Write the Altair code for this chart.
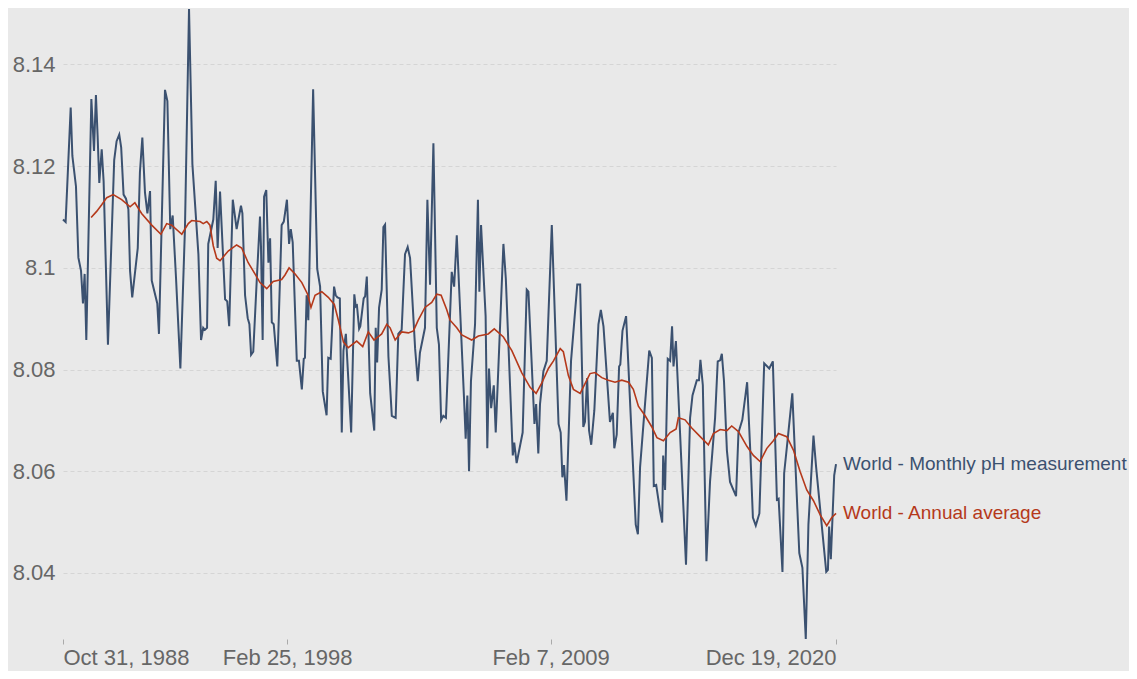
import altair as alt
import pandas as pd

# ---- data (decimal year, pH) ----
monthly_years = [
    1988.831, 1988.94, 1989.15, 1989.22, 1989.37, 1989.47, 1989.58, 1989.66, 1989.73, 1989.80,
    1990.01, 1990.06, 1990.12, 1990.20, 1990.27, 1990.34, 1990.44, 1990.52, 1990.70, 1990.96,
    1991.06, 1991.17, 1991.25, 1991.35, 1991.45, 1991.55, 1991.62, 1991.71, 1991.94, 1992.03,
    1992.13, 1992.24, 1992.34, 1992.45, 1992.52, 1992.75, 1992.82, 1993.07, 1993.17, 1993.29,
    1993.39, 1993.53, 1993.71, 1993.90, 1994.07, 1994.21, 1994.46, 1994.57, 1994.66, 1994.73,
    1994.82, 1994.87, 1995.08, 1995.18, 1995.26, 1995.36, 1995.57, 1995.66, 1995.74, 1995.89,
    1996.05, 1996.23, 1996.29, 1996.40, 1996.51, 1996.58, 1996.65, 1996.74, 1996.88, 1997.02,
    1997.06, 1997.13, 1997.19, 1997.28, 1997.37, 1997.44, 1997.51, 1997.59, 1997.74, 1997.92,
    1998.01, 1998.14, 1998.23, 1998.30, 1998.38, 1998.55, 1998.64, 1998.76, 1998.84, 1998.89,
    1998.96, 1999.03, 1999.23, 1999.40, 1999.52, 1999.63, 1999.79, 1999.86, 1999.96, 2000.10,
    2000.17, 2000.24, 2000.34, 2000.42, 2000.49, 2000.59, 2000.81, 2000.94, 2001.00, 2001.05,
    2001.14, 2001.19, 2001.33, 2001.39, 2001.46, 2001.60, 2001.77, 2001.83, 2001.89, 2001.97,
    2002.08, 2002.15, 2002.22, 2002.36, 2002.50, 2002.66, 2002.77, 2002.91, 2003.05, 2003.16,
    2003.26, 2003.47, 2003.58, 2003.67, 2003.88, 2003.98, 2004.09, 2004.23, 2004.37, 2004.46,
    2004.55, 2004.64, 2004.75, 2004.88, 2004.99, 2005.09, 2005.20, 2005.50, 2005.57, 2005.64,
    2005.71, 2005.79, 2005.96, 2006.08, 2006.14, 2006.21, 2006.40, 2006.47, 2006.54, 2006.63,
    2006.74, 2006.82, 2007.14, 2007.24, 2007.53, 2007.59, 2007.69, 2007.94, 2008.11, 2008.18,
    2008.43, 2008.50, 2008.59, 2008.66, 2008.80, 2008.94, 2009.15, 2009.43, 2009.52, 2009.59,
    2009.66, 2009.76, 2009.95, 2010.21, 2010.33, 2010.46, 2010.53, 2010.62, 2010.70, 2010.79,
    2010.92, 2011.09, 2011.19, 2011.30, 2011.57, 2011.69, 2011.75, 2011.85, 2011.95, 2012.00,
    2012.09, 2012.24, 2012.64, 2012.73, 2012.82, 2013.06, 2013.20, 2013.31, 2013.39, 2013.49,
    2013.65, 2013.74, 2013.78, 2013.86, 2013.97, 2014.07, 2014.15, 2014.21, 2014.31, 2014.73,
    2014.90, 2015.00, 2015.18, 2015.27, 2015.33, 2015.43, 2015.58, 2015.73, 2015.94, 2016.05,
    2016.15, 2016.22, 2016.31, 2016.43, 2016.56, 2016.81, 2016.91, 2017.07, 2017.27, 2017.40,
    2017.51, 2017.63, 2017.78, 2017.98, 2018.19, 2018.34, 2018.51, 2018.58, 2018.74, 2018.81,
    2018.96, 2019.15, 2019.44, 2019.57, 2019.71, 2019.82, 2020.03, 2020.14, 2020.56, 2020.63,
    2020.68, 2020.75, 2020.89, 2020.965,
]
monthly_ph = [
    8.1095, 8.109, 8.1315, 8.122, 8.116, 8.102, 8.0994, 8.093, 8.0988, 8.0858,
    8.1332, 8.1285, 8.123, 8.134, 8.126, 8.1167, 8.1233, 8.117, 8.0849, 8.1212,
    8.1249, 8.1262, 8.1237, 8.1144, 8.1136, 8.1115, 8.0994, 8.0942, 8.1039, 8.1188,
    8.1256, 8.1148, 8.1107, 8.1151, 8.0975, 8.093, 8.087, 8.135, 8.1328, 8.1076,
    8.1103, 8.0979, 8.0802, 8.1076, 8.1509, 8.1204, 8.1027, 8.0858, 8.0882, 8.0878,
    8.0882, 8.1047, 8.1095, 8.1171, 8.1039, 8.115, 8.0938, 8.0934, 8.0885, 8.1134,
    8.1076, 8.1122, 8.1107, 8.0946, 8.0901, 8.0889, 8.0829, 8.0835, 8.0971, 8.1101,
    8.1043, 8.0858, 8.114, 8.1153, 8.101, 8.1058, 8.0893, 8.0889, 8.0806, 8.1084,
    8.1091, 8.1134, 8.1047, 8.1076, 8.105, 8.0817, 8.0817, 8.0761, 8.0821, 8.0823,
    8.0946, 8.0897, 8.1351, 8.0998, 8.0963, 8.0757, 8.071, 8.0823, 8.0821, 8.0963,
    8.0946, 8.0942, 8.094, 8.0676, 8.0837, 8.087, 8.0676, 8.0948, 8.0924, 8.0926,
    8.088, 8.0885, 8.094, 8.0944, 8.0983, 8.0753, 8.068, 8.0882, 8.0814, 8.0922,
    8.0957, 8.108, 8.1085, 8.0825, 8.0709, 8.0705, 8.087, 8.0878, 8.1027, 8.1041,
    8.1019, 8.0841, 8.0777, 8.0833, 8.0882, 8.1134, 8.0967, 8.1245, 8.0882, 8.0849,
    8.0701, 8.0709, 8.0705, 8.086, 8.0992, 8.0963, 8.1064, 8.0745, 8.0664, 8.0749,
    8.06, 8.0777, 8.0889, 8.1134, 8.0953, 8.1084, 8.0905, 8.0645, 8.0802, 8.0724,
    8.0769, 8.0676, 8.1047, 8.0979, 8.0631, 8.0656, 8.0616, 8.0676, 8.0957, 8.0953,
    8.0693, 8.0732, 8.0635, 8.0732, 8.0796, 8.0817, 8.1084, 8.0693, 8.0676, 8.0588,
    8.0612, 8.0542, 8.0817, 8.0967, 8.0967, 8.0687, 8.0697, 8.0783, 8.068, 8.0652,
    8.072, 8.0889, 8.0917, 8.0885, 8.0697, 8.0715, 8.0645, 8.0672, 8.0806, 8.081,
    8.0876, 8.0905, 8.0495, 8.0476, 8.0608, 8.0753, 8.0837, 8.0823, 8.0571, 8.0573,
    8.0522, 8.0499, 8.0631, 8.0563, 8.0821, 8.0817, 8.0885, 8.0806, 8.0856, 8.0416,
    8.0705, 8.0749, 8.0779, 8.0779, 8.0819, 8.0769, 8.0423, 8.058, 8.0705, 8.0816,
    8.0818, 8.0831, 8.0777, 8.0641, 8.0579, 8.0551, 8.0676, 8.0701, 8.0775, 8.0641,
    8.0509, 8.0493, 8.0517, 8.0812, 8.0802, 8.0816, 8.0544, 8.0546, 8.0402, 8.0596,
    8.0664, 8.0753, 8.0439, 8.041, 8.027, 8.0495, 8.067, 8.0608, 8.0402, 8.0406,
    8.0491, 8.0427, 8.0592, 8.0614,
]

annual_years = [
    1990.00, 1990.23, 1990.44, 1990.65, 1990.92, 1991.27, 1991.62, 1991.82, 1992.10, 1992.52,
    1992.90, 1993.14, 1993.35, 1993.77, 1994.04, 1994.18, 1994.53, 1994.66, 1994.81, 1994.94,
    1995.08, 1995.22, 1995.36, 1995.70, 1996.05, 1996.26, 1996.53, 1996.81, 1997.02, 1997.30,
    1997.57, 1997.92, 1998.06, 1998.23, 1998.48, 1998.76, 1999.00, 1999.14, 1999.31, 1999.59,
    1999.86, 2000.11, 2000.28, 2000.49, 2000.69, 2001.04, 2001.29, 2001.52, 2001.76, 2002.08,
    2002.29, 2002.43, 2002.64, 2002.91, 2003.19, 2003.40, 2003.60, 2003.88, 2004.16, 2004.37,
    2004.55, 2004.78, 2004.92, 2005.20, 2005.41, 2005.82, 2006.10, 2006.51, 2006.76, 2007.14,
    2007.49, 2007.90, 2008.25, 2008.50, 2008.73, 2009.01, 2009.22, 2009.50, 2009.63, 2009.84,
    2010.05, 2010.33, 2010.74, 2010.95, 2011.23, 2011.50, 2011.78, 2012.06, 2012.34, 2012.54,
    2012.75, 2013.03, 2013.31, 2013.52, 2013.79, 2014.07, 2014.32, 2014.41, 2014.69, 2014.97,
    2015.32, 2015.66, 2015.87, 2016.15, 2016.43, 2016.63, 2016.91, 2017.26, 2017.53, 2017.81,
    2018.09, 2018.36, 2018.57, 2018.92, 2019.20, 2019.47, 2019.75, 2020.03, 2020.31, 2020.58,
    2020.79, 2020.965,
]
annual_ph = [
    8.1099, 8.1111, 8.1124, 8.1138, 8.1144, 8.1134, 8.112, 8.1128, 8.1107, 8.1084,
    8.1066, 8.1087, 8.1084, 8.1066, 8.1087, 8.1093, 8.1091, 8.1087, 8.1091, 8.1084,
    8.1043, 8.1019, 8.1014, 8.1033, 8.1045, 8.1039, 8.101, 8.0988, 8.0971, 8.0959,
    8.0973, 8.0977, 8.0986, 8.1, 8.0988, 8.0971, 8.0948, 8.0922, 8.0946, 8.0953,
    8.0942, 8.0928, 8.0897, 8.0854, 8.0843, 8.0856, 8.0845, 8.0874, 8.0858, 8.087,
    8.0889, 8.0882, 8.0858, 8.0874, 8.0872, 8.0876, 8.0897, 8.0922, 8.0932, 8.0948,
    8.0946, 8.0918, 8.0897, 8.0882, 8.0868, 8.0858, 8.0866, 8.087, 8.088, 8.0864,
    8.0837, 8.0794, 8.0765, 8.0753, 8.0773, 8.0802, 8.0817, 8.0841, 8.0835, 8.0788,
    8.0761, 8.0753, 8.0792, 8.0794, 8.0784, 8.0779, 8.0775, 8.0779, 8.0775, 8.0761,
    8.0728, 8.0709, 8.0687, 8.0666, 8.066, 8.0676, 8.0683, 8.0705, 8.0701, 8.0685,
    8.0668, 8.0652, 8.0674, 8.0682, 8.068, 8.0689, 8.0678, 8.0649, 8.0631, 8.0619,
    8.0645, 8.066, 8.0674, 8.0668, 8.0641, 8.06, 8.0563, 8.0542, 8.0514, 8.0493,
    8.0509, 8.0517,
]

series_names = ["World - Monthly pH measurement", "World - Annual average"]
series_colors = ["#3b5170", "#b5391b"]
y_ticks = [8.04, 8.06, 8.08, 8.1, 8.12, 8.14]


def to_ts(y):
    yr = int(y)
    start = pd.Timestamp(yr, 1, 1)
    end = pd.Timestamp(yr + 1, 1, 1)
    return (start + (end - start) * (y - yr)).round("s")


monthly = pd.DataFrame({"date": [to_ts(v) for v in monthly_years], "ph": monthly_ph})
annual = pd.DataFrame({"date": [to_ts(v) for v in annual_years], "ph": annual_ph})
labels = pd.DataFrame({
    "date": [monthly["date"].iloc[-1], annual["date"].iloc[-1]],
    "ph": [monthly["ph"].iloc[-1], annual["ph"].iloc[-1]],
    "label": series_names,
    "color": series_colors,
})

FONT = "Liberation Sans"
tick_dates = [
    alt.DateTime(year=1988, month=10, date=31),
    alt.DateTime(year=1998, month=2, date=25),
    alt.DateTime(year=2009, month=2, date=7),
    alt.DateTime(year=2020, month=12, date=19),
]

x_enc = alt.X(
    "date:T",
    scale=alt.Scale(domain=[tick_dates[0], tick_dates[-1]]),
    axis=alt.Axis(
        values=tick_dates, format="%b %-d, %Y", labelFlush=True, labelOverlap=False,
        grid=False, domain=False, tickColor="#aaaaaa", tickSize=5, tickWidth=1,
        labelFontSize=22, labelColor="#666666", labelFont=FONT, labelPadding=3, title=None,
    ),
)
y_enc = alt.Y(
    "ph:Q",
    scale=alt.Scale(domain=[8.027, 8.1511], nice=False, zero=False),
    axis=alt.Axis(
        values=y_ticks, format="~g", grid=True, gridDash=[4, 3], gridColor="#d5d5d5",
        gridWidth=1, ticks=False, domain=False, labelFontSize=22, labelColor="#666666",
        labelFont=FONT, labelPadding=8, title=None,
    ),
)

blue = alt.Chart(monthly).mark_line(color=series_colors[0], strokeWidth=2).encode(x=x_enc, y=y_enc)
red = alt.Chart(annual).mark_line(color=series_colors[1], strokeWidth=1.6).encode(x=x_enc, y=y_enc)
text = alt.Chart(labels).mark_text(
    align="left", baseline="middle", dx=7, fontSize=19, font=FONT
).encode(x=x_enc, y=y_enc, text="label:N", color=alt.Color("color:N", scale=None))

chart = (
    alt.layer(blue, red, text)
    .properties(
        width=773,
        height=631,
        background="#e9e9e9",
        padding={"left": 55, "top": 0, "right": 293, "bottom": 32},
        autosize=alt.AutoSizeParams(type="none"),
    )
    .configure(font=FONT)
    .configure_view(stroke=None)
)

chart.save("out.html", embed_options={"renderer": "svg", "actions": False})
